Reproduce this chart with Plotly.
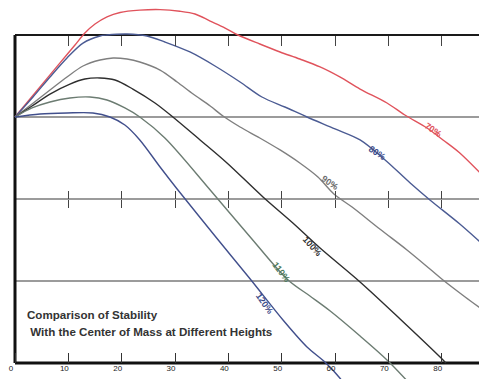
import plotly.graph_objects as go

# ---------------- data ----------------
x_tick_vals = [0, 10, 20, 30, 40, 50, 60, 70, 80, 90]
x_tick_text = ["0", "10", "20", "30", "40", "50", "60", "70", "80", "90"]
inner_tick_vals = [10, 20, 30, 40, 50, 60, 70, 80]
grid_levels = [0, -1, -2]
frame_top = 1
frame_bottom = -3

labels = ["70%", "80%", "90%", "100%", "110%", "120%"]

x70 = [0, 2.81, 5.625, 8.44, 11.25, 13.1, 15.0, 17.25, 19.7, 23.4, 27.2, 30.9, 33.75, 36.6,
       39.4, 41.8, 45.9, 49.7, 53.4, 57.2, 60.9, 64.7, 69.75, 73.1, 77.25, 80.25, 83.4, 88.5, 90]
y70 = [0, 0.22, 0.44, 0.66, 0.878, 1.024, 1.134, 1.222, 1.275, 1.303, 1.31, 1.29, 1.256, 1.17,
       1.085, 1.0, 0.89, 0.793, 0.707, 0.61, 0.488, 0.341, 0.171, 0.024, -0.134, -0.28, -0.439,
       -0.768, -0.87]

x80 = [0, 3.375, 6.56, 9.75, 12.75, 15.94, 17.25, 21, 24.75, 28.1, 32.8, 37.5, 42.2, 46.3, 50.6,
       54.75, 60, 64.7, 69.4, 74.1, 77.8, 83.4, 88.5, 90]
y80 = [0, 0.244, 0.488, 0.72, 0.902, 0.988, 1.0, 1.012, 0.988, 0.915, 0.793, 0.622, 0.427, 0.244,
       0.122, 0.0, -0.146, -0.28, -0.524, -0.805, -1.012, -1.305, -1.598, -1.68]

x90 = [0, 3.19, 6.56, 9.75, 12.75, 15.94, 18.4, 21, 23.4, 27.2, 30.4, 33.4, 36.6, 39, 42.2, 45.9,
       49.7, 53.4, 56.8, 59.8, 63.2, 68.4, 73.5, 77.8, 80.25, 84.4, 88.5, 90]
y90 = [0, 0.159, 0.329, 0.488, 0.622, 0.695, 0.72, 0.707, 0.671, 0.573, 0.427, 0.28, 0.134, 0.012,
       -0.122, -0.256, -0.402, -0.561, -0.732, -0.939, -1.098, -1.366, -1.622, -1.854, -1.988,
       -2.195, -2.39, -2.46]

x100 = [0, 3.19, 6.56, 10.3, 13.1, 15.94, 18.75, 22.1, 26.25, 29.6, 34.7, 39.75, 46.5, 52.1,
        57.2, 64.7, 72.2, 79.7, 80.8]
y100 = [0, 0.134, 0.28, 0.402, 0.463, 0.476, 0.451, 0.341, 0.171, 0.0, -0.28, -0.561, -0.976,
        -1.293, -1.598, -2.012, -2.463, -2.927, -3.0]

x110 = [0, 3.19, 6.56, 10.3, 14.06, 17.25, 20.6, 23.4, 28.1, 36.6, 44.1, 51.2, 55.3, 59.1, 64.7,
        69.75, 74.6]
y110 = [0, 0.11, 0.183, 0.232, 0.244, 0.207, 0.11, 0.0, -0.256, -0.89, -1.463, -1.988, -2.183,
        -2.366, -2.671, -2.963, -3.293]

x120 = [0, 4.69, 9.75, 14.6, 17.8, 20.6, 23.4, 27.2, 30.4, 37.5, 44.1, 50.25, 54.75, 58.1, 60.9,
        62.1]
y120 = [0, 0.037, 0.049, 0.049, 0.0, -0.098, -0.28, -0.61, -0.878, -1.451, -1.976, -2.476,
        -2.805, -2.988, -3.183, -3.293]

label_x = [78.4, 67.9, 59.1, 55.7, 49.9, 46.7]
label_y = [-0.16, -0.44, -0.80, -1.57, -1.89, -2.27]
label_angle = [35, 33, 35, 48, 52, 55]

title_lines = ["Comparison of Stability", " With the Center of Mass at Different Heights"]

# ---------------- styling / geometry ----------------
colors = ["#e0535c", "#4b5b93", "#7f7f7f", "#2e2e2e", "#6c7c72", "#414f8c"]
label_colors = ["#e0535c", "#3b4a88", "#6f6f6f", "#2e2e2e", "#4d7a5c", "#3b4a88"]
FONT = "Liberation Sans, Arial, sans-serif"

W, H = 487, 379
OFF = 8            # page body margin shifts the figure by this many pixels
PX0, PXU = 15, 5.3333   # reference pixel of x=0 and pixels per x unit
PY0, PYU = 117, 82      # reference pixel of y=0 and pixels per y unit

X_RANGE = [(OFF - PX0) / PXU, (OFF + W - PX0) / PXU]
Y_RANGE = [(PY0 - (OFF + H)) / PYU, (PY0 - OFF) / PYU]


def frac(v):
    return (v - Y_RANGE[0]) / (Y_RANGE[1] - Y_RANGE[0])


fig = go.Figure()

series = [(x70, y70), (x80, y80), (x90, y90), (x100, y100), (x110, y110), (x120, y120)]
for (xs, ys), name, col in zip(series, labels, colors):
    fig.add_trace(go.Scatter(x=xs, y=ys, mode="lines", name=name,
                             line=dict(color=col, width=1.4, shape="spline", smoothing=0.9),
                             showlegend=False, hoverinfo="skip"))

# dummy traces so the overlaying tick axes are drawn
for ax in ["x2", "x3", "x4"]:
    fig.add_trace(go.Scatter(x=[None], y=[None], xaxis=ax, yaxis="y", showlegend=False,
                             hoverinfo="skip"))

shapes = []
for g in grid_levels:
    shapes.append(dict(type="line", xref="x", yref="y", x0=0, x1=X_RANGE[1], y0=g, y1=g,
                       line=dict(color="#7a7a7a", width=1.6), layer="below"))
shapes.append(dict(type="line", xref="x", yref="y", x0=0, x1=X_RANGE[1], y0=frame_top,
                   y1=frame_top, line=dict(color="#1a1a1a", width=2.2), layer="below"))
shapes.append(dict(type="line", xref="x", yref="y", x0=0, x1=X_RANGE[1], y0=frame_bottom,
                   y1=frame_bottom, line=dict(color="#111111", width=3), layer="below"))
shapes.append(dict(type="line", xref="x", yref="y", x0=0, x1=0, y0=frame_bottom, y1=frame_top,
                   line=dict(color="#111111", width=3), layer="below"))

annotations = []
for t, lx, ly, ang, lc in zip(labels, label_x, label_y, label_angle, label_colors):
    annotations.append(dict(x=lx, y=ly, xref="x", yref="y", text="<b>%s</b>" % t, showarrow=False,
                            textangle=ang, font=dict(family=FONT, size=9, color=lc)))
annotations.append(dict(x=(25 - OFF) / W, y=1 - (314 - OFF) / H, xref="paper", yref="paper",
                        text="<b>%s</b>" % title_lines[0], showarrow=False, xanchor="left",
                        yanchor="middle", font=dict(family=FONT, size=11.6, color="#333333")))
annotations.append(dict(x=(25 - OFF) / W, y=1 - (331 - OFF) / H, xref="paper", yref="paper",
                        text="<b>%s</b>" % title_lines[1], showarrow=False, xanchor="left",
                        yanchor="middle", font=dict(family=FONT, size=11.6, color="#333333")))

common = dict(range=X_RANGE, showgrid=False, zeroline=False, showline=False, anchor="free")

fig.update_layout(
    width=W, height=H,
    margin=dict(l=0, r=0, t=0, b=0),
    paper_bgcolor="white", plot_bgcolor="white",
    showlegend=False,
    shapes=shapes,
    annotations=annotations,
    xaxis=dict(**common, position=frac(frame_bottom), side="bottom",
               tickvals=x_tick_vals, ticktext=x_tick_text, ticks="inside", ticklen=10,
               tickwidth=1.4, tickcolor="#333333", ticklabelshift=-4, ticklabelstandoff=-1,
               ticklabeloverflow="allow",
               tickfont=dict(family=FONT, size=8, color="#222222")),
    xaxis2=dict(**common, overlaying="x", position=frac(frame_top), side="top",
                tickvals=inner_tick_vals, ticks="inside", ticklen=10, tickwidth=1.4,
                tickcolor="#444444", showticklabels=False),
    xaxis3=dict(**common, overlaying="x", position=frac(-1), side="bottom",
                tickvals=inner_tick_vals, ticks="outside", ticklen=8, tickwidth=1.4,
                tickcolor="#444444", showticklabels=False),
    xaxis4=dict(**common, overlaying="x", position=frac(-1), side="bottom",
                tickvals=inner_tick_vals, ticks="inside", ticklen=8, tickwidth=1.4,
                tickcolor="#444444", showticklabels=False),
    yaxis=dict(range=Y_RANGE, visible=False, showgrid=False, zeroline=False),
)

fig.write_html("out.html")
